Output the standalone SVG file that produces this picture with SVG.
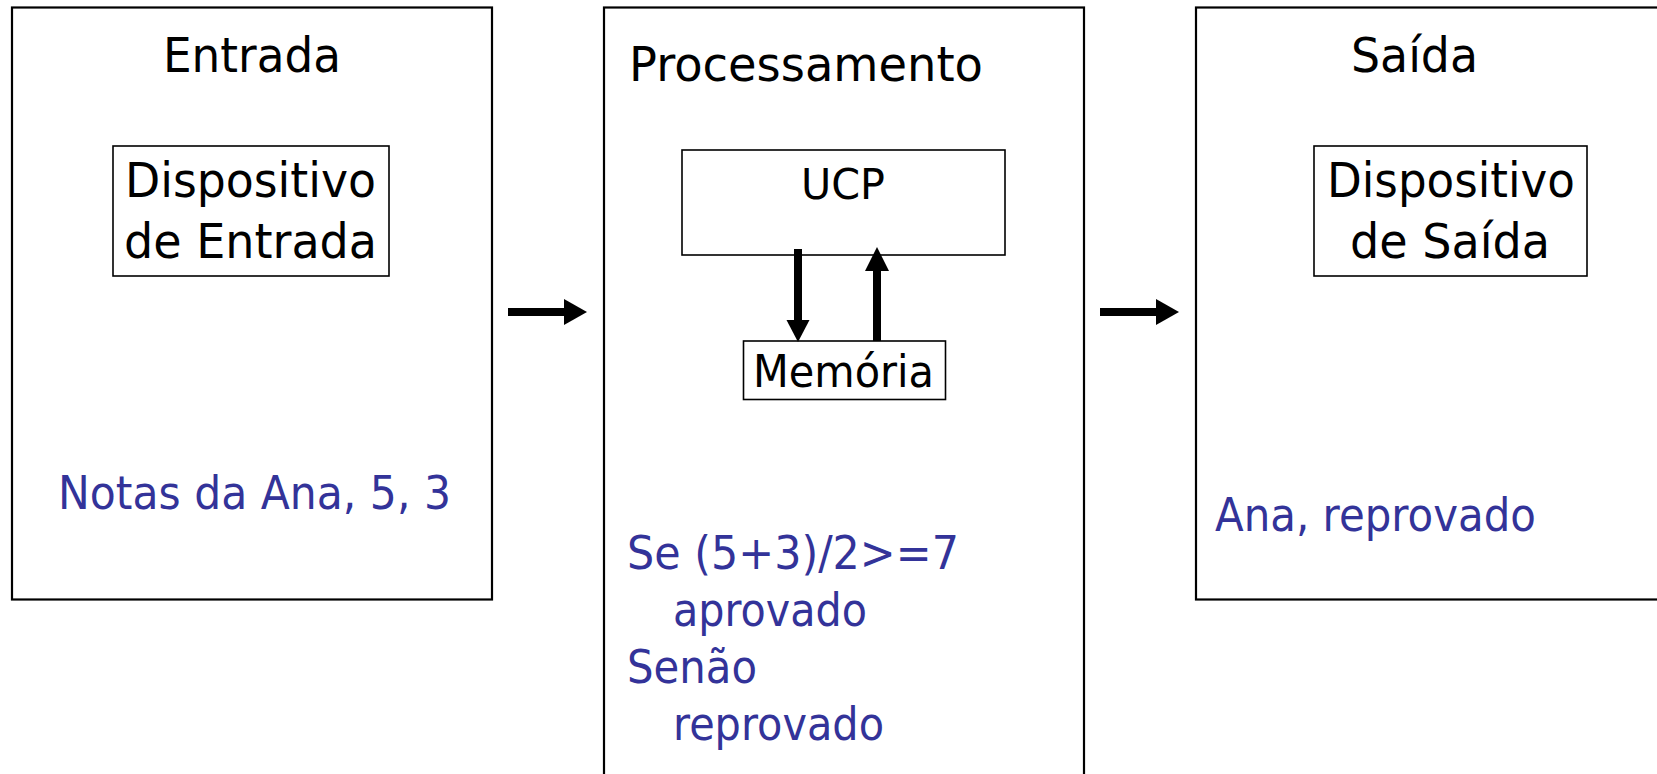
<svg xmlns="http://www.w3.org/2000/svg" width="1657" height="774" viewBox="0 0 1657 774">
<style>
.outer{fill:#fff;stroke:#000;stroke-width:2.2}
.inner{fill:#fff;stroke:#000;stroke-width:1.6}
.t{font-family:"DejaVu Sans","Noto Sans",sans-serif;fill:#000}
.b{font-family:"DejaVu Sans","Noto Sans",sans-serif;fill:#333399;font-size:46px}
.arr{stroke:#000;stroke-width:8;fill:none}
.head{fill:#000}
</style>
<rect x="0" y="0" width="1657" height="774" fill="#fff"/>
<g id="entrada">
<rect class="outer" x="12" y="7.5" width="480" height="592"/>
<text class="t" x="163" y="72" font-size="48" textLength="178" lengthAdjust="spacingAndGlyphs">Entrada</text>
</g>
<g id="dispositivo-entrada">
<rect class="inner" x="113" y="146" width="276" height="130"/>
<text class="t" x="125" y="197" font-size="48" textLength="251" lengthAdjust="spacingAndGlyphs">Dispositivo</text>
<text class="t" x="124" y="258" font-size="48" textLength="253" lengthAdjust="spacingAndGlyphs">de Entrada</text>
</g>
<g id="notas">
<text class="b" x="58" y="509" textLength="393" lengthAdjust="spacingAndGlyphs">Notas da Ana, 5, 3</text>
</g>
<g id="processamento">
<rect class="outer" x="604" y="7.5" width="480" height="800"/>
<text class="t" x="629" y="81" font-size="48" textLength="354" lengthAdjust="spacingAndGlyphs">Processamento</text>
</g>
<g id="ucp">
<rect class="inner" x="682" y="150" width="323" height="105"/>
<text class="t" x="801" y="199" font-size="43" textLength="84" lengthAdjust="spacingAndGlyphs">UCP</text>
</g>
<g id="memoria">
<rect class="inner" x="743.5" y="341" width="202" height="58.5"/>
<text class="t" x="753" y="387" font-size="44" textLength="181" lengthAdjust="spacingAndGlyphs">Memória</text>
</g>
<g id="algoritmo">
<text class="b" x="627" y="569" textLength="332" lengthAdjust="spacingAndGlyphs">Se (5+3)/2&gt;=7</text>
<text class="b" x="673" y="626" textLength="194" lengthAdjust="spacingAndGlyphs">aprovado</text>
<text class="b" x="627" y="683" textLength="130" lengthAdjust="spacingAndGlyphs">Senão</text>
<text class="b" x="673" y="740" textLength="211" lengthAdjust="spacingAndGlyphs">reprovado</text>
</g>
<g id="saida">
<rect class="outer" x="1196" y="7.5" width="480" height="592"/>
<text class="t" x="1351" y="72" font-size="48" textLength="127" lengthAdjust="spacingAndGlyphs">Saída</text>
</g>
<g id="dispositivo-saida">
<rect class="inner" x="1314" y="146" width="273" height="130"/>
<text class="t" x="1327" y="197" font-size="48" textLength="248" lengthAdjust="spacingAndGlyphs">Dispositivo</text>
<text class="t" x="1350" y="258" font-size="48" textLength="200" lengthAdjust="spacingAndGlyphs">de Saída</text>
</g>
<g id="resultado">
<text class="b" x="1215" y="531" textLength="321" lengthAdjust="spacingAndGlyphs">Ana, reprovado</text>
</g>
<g id="connectors">
<line class="arr" x1="508" y1="312" x2="566" y2="312"/>
<polygon class="head" points="564,299 587,312 564,325"/>
<line class="arr" x1="1100" y1="312" x2="1158" y2="312"/>
<polygon class="head" points="1156,299 1179,312 1156,325"/>
<line class="arr" x1="798" y1="249" x2="798" y2="322"/>
<polygon class="head" points="786.5,320 809.5,320 798,342"/>
<line class="arr" x1="877" y1="341" x2="877" y2="268"/>
<polygon class="head" points="865,271 889,271 877,247"/>
</g>
</svg>
